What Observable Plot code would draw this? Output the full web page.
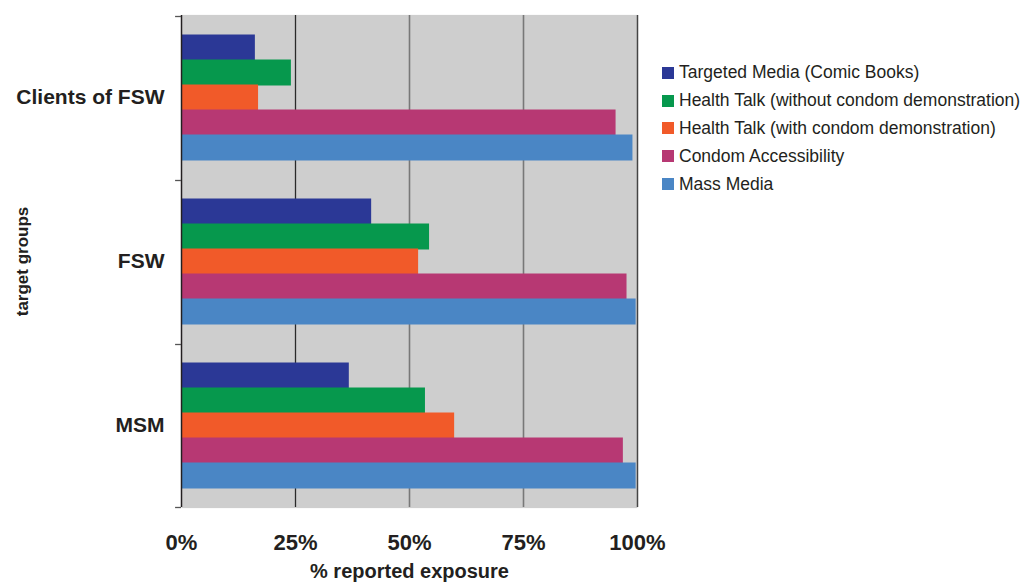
<!DOCTYPE html>
<html>
<head>
<meta charset="utf-8">
<script src="https://cdn.jsdelivr.net/npm/d3@7"></script>
<script src="https://cdn.jsdelivr.net/npm/@observablehq/plot@0.6"></script>
<style>
  html, body { margin: 0; padding: 0; background: #fff; }
  #wrap { position: relative; width: 1025px; height: 582px; font-family: "Liberation Sans", Arial, sans-serif; color: #231f20; }
  #legend { position: absolute; left: 662px; top: 59px; }
  .item { display: flex; align-items: center; height: 27.8px; font-size: 17.5px; white-space: nowrap; }
  .sw { width: 12px; height: 12px; margin-right: 5px; flex: none; }
</style>
</head>
<body>
<div id="wrap"></div>
<script>
const groups = ["Clients of FSW", "FSW", "MSM"];
const series = [
  "Targeted Media (Comic Books)",
  "Health Talk (without condom demonstration)",
  "Health Talk (with condom demonstration)",
  "Condom Accessibility",
  "Mass Media"
];
const colors = ["#2b3896", "#06984d", "#f15a29", "#b73873", "#4a86c5"];
// values (% reported exposure), one array per target group, in series order
const clientsValues = [16.2, 24.1, 16.9, 95.3, 99.0];
const fswValues     = [41.7, 54.4, 52.0, 97.7, 99.7];
const msmValues     = [36.8, 53.5, 59.9, 96.9, 99.7];
const xTicks = [0, 25, 50, 75, 100];

const valueSets = [clientsValues, fswValues, msmValues];
const data = groups.flatMap((g, gi) => series.map((s, si) => ({group: g, series: s, value: valueSets[gi][si]})));

const font = `"Liberation Sans", Arial, sans-serif`;
const ink = "#231f20";

const chart = Plot.plot({
  width: 1025,
  height: 582,
  marginTop: 15,
  marginBottom: 75,
  marginLeft: 181,
  marginRight: 388,
  style: {fontFamily: font, color: ink, background: "transparent", overflow: "visible"},
  x: {domain: [0, 100]},
  y: {domain: series, paddingInner: 0, paddingOuter: 0.75, axis: null},
  fy: {domain: groups, padding: 0},
  color: {domain: series, range: colors},
  marks: [
    Plot.frame({fill: "#cecece", stroke: null, insetTop: -0.6, insetBottom: -0.6}),
    Plot.ruleX([25], {stroke: "#2a2a2a", strokeWidth: 1.3}),
    Plot.ruleX([50, 75], {stroke: "#787878", strokeWidth: 1.6}),
    Plot.barX(data, {fy: "group", y: "series", x: "value", fill: "series", insetTop: -0.5, insetBottom: -0.5}),
    Plot.ruleX([100], {stroke: "#444", strokeWidth: 1.5}),
    Plot.ruleX([0], {stroke: "#231f20", strokeWidth: 1.5}),
    // small boundary ticks on the category axis
    Plot.ruleY(groups, {fy: d => d, y: () => series[0], x1: -1.3, x2: 0, dy: -31.5, stroke: "#555", strokeWidth: 1.3}),
    Plot.ruleY(groups.slice(-1), {fy: d => d, y: () => series[series.length - 1], x1: -1.3, x2: 0, dy: 31.5, stroke: "#555", strokeWidth: 1.3}),
    Plot.axisFy({
      anchor: "left", tickSize: 0, tickPadding: 17, fontSize: 21, fontWeight: "bold",
      label: "target groups", labelAnchor: "center", labelOffset: 166, labelArrow: false
    }),
    Plot.axisX({
      anchor: "bottom", ticks: xTicks, tickFormat: d => d + "%", tickSize: 0, tickPadding: 27,
      fontSize: 22, fontWeight: "bold",
      label: "% reported exposure", labelAnchor: "center", labelOffset: 70, labelArrow: false
    })
  ]
});

// style axis label fonts
chart.querySelectorAll("[aria-label='fy-axis label'] text").forEach(t => { t.setAttribute("font-size", 17); t.setAttribute("font-weight", "bold"); });
chart.querySelectorAll("[aria-label='x-axis label'] text").forEach(t => { t.setAttribute("font-size", 20); t.setAttribute("font-weight", "bold"); });

const wrap = document.getElementById("wrap");
wrap.appendChild(chart);

const legend = document.createElement("div");
legend.id = "legend";
series.forEach((s, i) => {
  const item = document.createElement("div");
  item.className = "item";
  const sw = document.createElement("span");
  sw.className = "sw";
  sw.style.background = colors[i];
  const lab = document.createElement("span");
  lab.textContent = s;
  item.appendChild(sw);
  item.appendChild(lab);
  legend.appendChild(item);
});
wrap.appendChild(legend);
</script>
</body>
</html>
